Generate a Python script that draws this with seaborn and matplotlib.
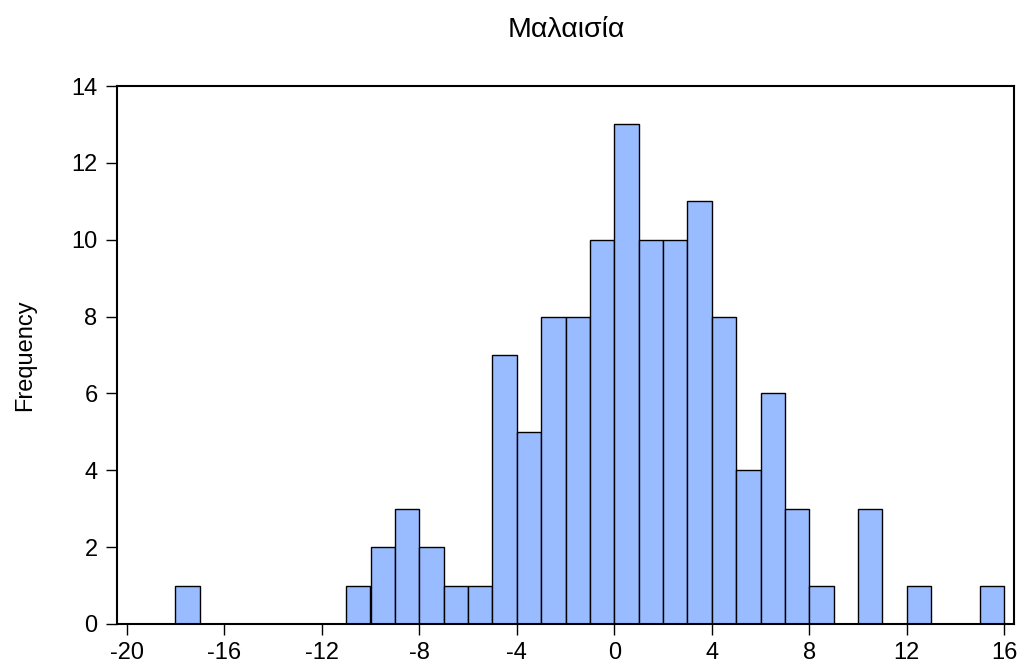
import numpy as np
import matplotlib
matplotlib.use("Agg")
import matplotlib.pyplot as plt
import seaborn as sns

# Data: histogram bins (width 1) and frequencies
bin_starts = list(range(-18, 16))
counts = [1, 0, 0, 0, 0, 0, 0, 1, 2, 3, 2, 1, 1, 7, 5, 8, 8, 10, 13,
          10, 10, 11, 8, 4, 6, 3, 1, 0, 3, 0, 1, 0, 0, 1]
x_ticks = [-20, -16, -12, -8, -4, 0, 4, 8, 12, 16]
y_ticks = [0, 2, 4, 6, 8, 10, 12, 14]
title = "Μαλαισία"
ylabel = "Frequency"

sns.set_theme(style="white")
plt.rcParams['font.family'] = ['Liberation Sans', 'DejaVu Sans']

fig = plt.figure(figsize=(10.23, 6.68), dpi=100)
ax = fig.add_axes([117/1023, 1 - 624/668, (1014 - 117)/1023, (624 - 86)/668])

centers = [b + 0.5 for b in bin_starts]
edges = bin_starts + [bin_starts[-1] + 1]
sns.histplot(x=centers, weights=counts, bins=edges, ax=ax,
             color="#99BBFF", edgecolor="black", linewidth=1.0, alpha=1.0)

ax.set_xlim(-20.4, 16.4)
ax.set_ylim(0, 14)
ax.set_xticks(x_ticks)
ax.set_xticklabels([str(t) for t in x_ticks])
ax.set_yticks(y_ticks)
ax.set_yticklabels([str(t) for t in y_ticks])
ax.tick_params(axis='both', direction='out', length=8, width=1, color='black',
               labelsize=17, labelcolor='black', bottom=True, left=True, top=False, right=False)
ax.tick_params(axis='y', pad=6)
ax.tick_params(axis='x', pad=5)
for s in ax.spines.values():
    s.set_visible(True)
    s.set_color('black')
    s.set_linewidth(1.5)
ax.set_xlabel("")
ax.set_ylabel(ylabel, fontsize=17, color='black')
ax.yaxis.set_label_coords((25 - 117) / (1014 - 117), 0.5)
ax.yaxis.label.set_va('center')
fig.text(566/1023, 1 - 37/668, title, ha='center', va='baseline', fontsize=20.5, color='black')

fig.savefig("out.png", dpi=100, facecolor='white')
